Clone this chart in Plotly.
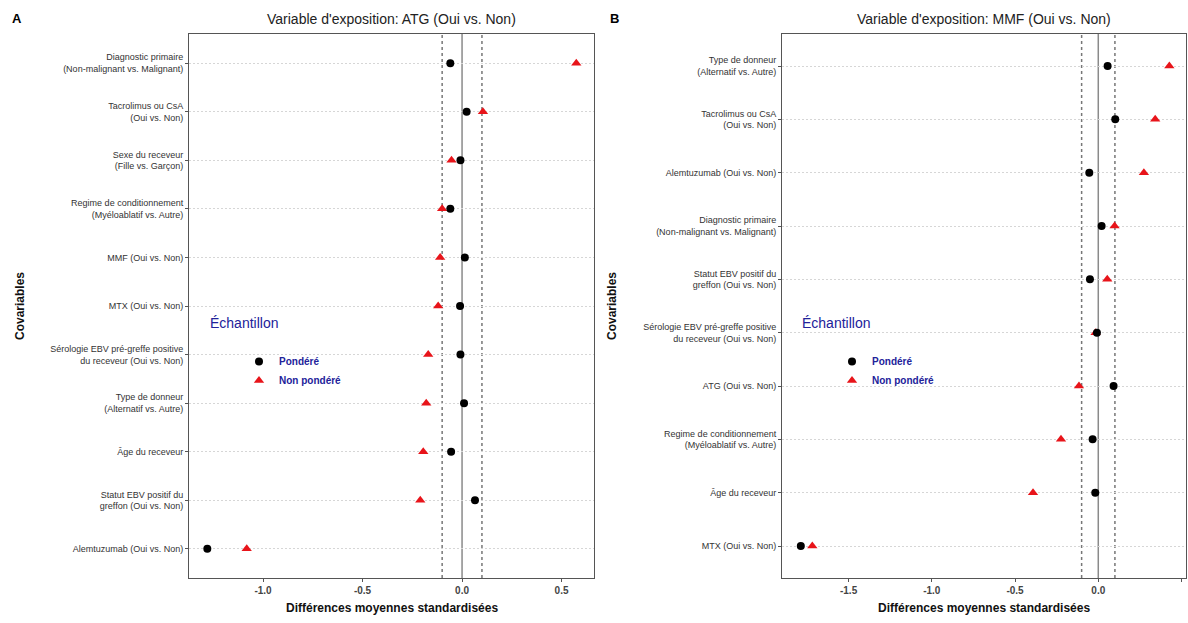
import plotly.graph_objects as go

# ---------------- data ----------------
atg_covariates = [
    "Diagnostic primaire<br>(Non-malignant vs. Malignant)",
    "Tacrolimus ou CsA<br>(Oui vs. Non)",
    "Sexe du receveur<br>(Fille vs. Garçon)",
    "Regime de conditionnement<br>(Myéloablatif vs. Autre)",
    "MMF (Oui vs. Non)",
    "MTX (Oui vs. Non)",
    "Sérologie EBV pré-greffe positive<br>du receveur (Oui vs. Non)",
    "Type de donneur<br>(Alternatif vs. Autre)",
    "Âge du receveur",
    "Statut EBV positif du<br>greffon (Oui vs. Non)",
    "Alemtuzumab (Oui vs. Non)",
]
atg_weighted = [-0.059, 0.023, -0.008, -0.059, 0.014, -0.01, -0.008, 0.01, -0.055, 0.065, -1.28]
atg_unweighted = [0.574, 0.105, -0.053, -0.10, -0.11, -0.12, -0.17, -0.18, -0.195, -0.21, -1.082]

mmf_covariates = [
    "Type de donneur<br>(Alternatif vs. Autre)",
    "Tacrolimus ou CsA<br>(Oui vs. Non)",
    "Alemtuzumab (Oui vs. Non)",
    "Diagnostic primaire<br>(Non-malignant vs. Malignant)",
    "Statut EBV positif du<br>greffon (Oui vs. Non)",
    "Sérologie EBV pré-greffe positive<br>du receveur (Oui vs. Non)",
    "ATG (Oui vs. Non)",
    "Regime de conditionnement<br>(Myéloablatif vs. Autre)",
    "Âge du receveur",
    "MTX (Oui vs. Non)",
]
mmf_weighted = [0.056, 0.102, -0.054, 0.02, -0.05, -0.008, 0.092, -0.034, -0.018, -1.787]
mmf_unweighted = [0.427, 0.342, 0.274, 0.098, 0.054, -0.016, -0.116, -0.224, -0.392, -1.718]

atg_xticks = [-1.0, -0.5, 0.0, 0.5]
mmf_xticks = [-1.5, -1.0, -0.5, 0.0, 0.5]
threshold_lines = [-0.1, 0.1]
zero_line = 0.0

panel_titles = ["Variable d'exposition: ATG (Oui vs. Non)", "Variable d'exposition: MMF (Oui vs. Non)"]
panel_letters = ["A", "B"]
legend_title = "Échantillon"
series_names = ["Pondéré", "Non pondéré"]

# ---------------- styling ----------------
W, H = 1188, 623
FONT = "Liberation Sans, Arial, sans-serif"
BLUE = "#22229a"
RED = "#e8141a"

fig = go.Figure()

panels = [
    dict(cov=atg_covariates, w=atg_weighted, u=atg_unweighted, ticks=atg_xticks,
         rng=[-1.372, 0.663], dom=[189 / W, 594 / W], xa="x", ya="y", leg="legend"),
    dict(cov=mmf_covariates, w=mmf_weighted, u=mmf_unweighted, ticks=mmf_xticks,
         rng=[-1.90, 0.527], dom=[782 / W, 1186 / W], xa="x2", ya="y2", leg="legend2"),
]

ydom = [1 - 578 / H, 1 - 34 / H]
annotations = []
shapes = []

for i, p in enumerate(panels):
    n = len(p["cov"])
    ypos = [n - k for k in range(n)]
    fig.add_trace(go.Scatter(
        x=p["u"], y=ypos, mode="markers", name=series_names[1],
        marker=dict(symbol="triangle-up", color=RED, size=9),
        xaxis=p["xa"], yaxis=p["ya"], legend=p["leg"], legendrank=2,
    ))
    fig.add_trace(go.Scatter(
        x=p["w"], y=ypos, mode="markers", name=series_names[0],
        marker=dict(symbol="circle", color="#000000", size=8),
        xaxis=p["xa"], yaxis=p["ya"], legend=p["leg"], legendrank=1,
    ))
    sfx = "" if i == 0 else "2"
    fig.update_layout(**{
        "xaxis" + sfx: dict(
            domain=p["dom"], range=p["rng"], anchor=p["ya"],
            tickvals=p["ticks"], ticktext=["<b>%.1f</b>" % t for t in p["ticks"]],
            showgrid=False, zeroline=False, showline=True, mirror=True,
            linecolor="#555555", linewidth=1, ticks="outside", ticklen=3,
            tickcolor="#555555", tickfont=dict(family=FONT, size=10, color="#444444"),
        ),
        "yaxis" + sfx: dict(
            domain=ydom, range=[0.4, n + 0.6], anchor=p["xa"],
            tickvals=ypos, ticktext=p["cov"],
            showgrid=True, gridcolor="#d6d6d6", griddash="2px,2px", gridwidth=1,
            zeroline=False, showline=True, mirror=True,
            linecolor="#555555", linewidth=1, ticks="outside", ticklen=3,
            tickcolor="#555555", tickfont=dict(family=FONT, size=9, color="#333333"),
        ),
    })
    xref = p["xa"]
    yref = p["ya"] + " domain"
    for t in threshold_lines:
        shapes.append(dict(type="line", xref=xref, yref=yref, x0=t, x1=t, y0=0, y1=1,
                           line=dict(color="#777777", width=1.5, dash="3px,3px"), layer="below"))
    shapes.append(dict(type="line", xref=xref, yref=yref, x0=zero_line, x1=zero_line, y0=0, y1=1,
                       line=dict(color="#8a8a8a", width=1.5), layer="below"))

    cx = (p["dom"][0] + p["dom"][1]) / 2
    annotations.append(dict(text=panel_titles[i], x=cx, y=1 - 19 / H, xref="paper", yref="paper",
                            showarrow=False, font=dict(family=FONT, size=14, color="#222222"),
                            xanchor="center", yanchor="middle"))
    annotations.append(dict(text="<b>Différences moyennes standardisées</b>", x=cx, y=1 - 608 / H,
                            xref="paper", yref="paper", showarrow=False,
                            font=dict(family=FONT, size=12, color="#111111"),
                            xanchor="center", yanchor="middle"))
    letter_x = [17, 614][i]
    annotations.append(dict(text="<b>%s</b>" % panel_letters[i], x=letter_x / W, y=1 - 19 / H,
                            xref="paper", yref="paper", showarrow=False,
                            font=dict(family=FONT, size=13, color="#000000"),
                            xanchor="center", yanchor="middle"))
    ytitle_x = [20, 612][i]
    annotations.append(dict(text="<b>Covariables</b>", x=ytitle_x / W, y=(ydom[0] + ydom[1]) / 2,
                            xref="paper", yref="paper", showarrow=False, textangle=-90,
                            font=dict(family=FONT, size=12, color="#111111"),
                            xanchor="center", yanchor="middle"))
    legx = [208, 800][i]
    annotations.append(dict(text=legend_title, x=legx / W, y=1 - 323 / H, xref="paper", yref="paper",
                            showarrow=False, font=dict(family=FONT, size=14, color=BLUE),
                            xanchor="left", yanchor="middle"))

leg_common = dict(bgcolor="rgba(0,0,0,0)", borderwidth=0, xanchor="left", yanchor="top",
                  font=dict(family=FONT, size=10, color=BLUE), itemwidth=30,
                  traceorder="normal", tracegroupgap=0)

fig.update_layout(
    width=W, height=H,
    margin=dict(l=0, r=0, t=0, b=0),
    paper_bgcolor="white", plot_bgcolor="white",
    showlegend=True,
    legend=dict(x=(258 - 19) / W, y=1 - 347 / H, **leg_common),
    legend2=dict(x=(851 - 19) / W, y=1 - 347 / H, **leg_common),
    annotations=annotations,
    shapes=shapes,
)
for tr in fig.data:
    tr.name = "<b>%s</b>" % tr.name

fig.write_html("out.html")
